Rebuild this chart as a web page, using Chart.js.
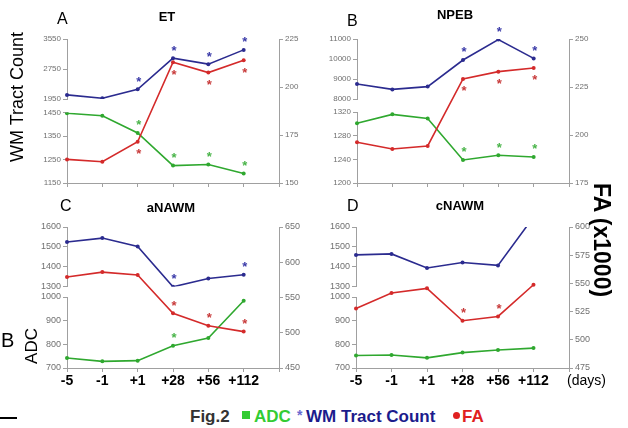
<!DOCTYPE html>
<html>
<head>
<meta charset="utf-8">
<title>Fig.2</title>
<script src="https://cdn.jsdelivr.net/npm/chart.js@4/dist/chart.umd.min.js"></script>
<style>
  body { margin: 0; width: 628px; height: 428px; background: #fff; position: relative; overflow: hidden; font-family: "Liberation Sans", Arial, sans-serif; }
  .panel { position: absolute; }
  .txt { position: absolute; white-space: nowrap; line-height: 1; }
  .rot { position: absolute; white-space: nowrap; line-height: 1; transform: translate(-50%, -50%) rotate(-90deg); }
</style>
</head>
<body>
<div class="panel" style="left:0;top:20px;width:314px;height:180px"><canvas id="chartA"></canvas></div>
<div class="panel" style="left:314px;top:20px;width:314px;height:180px"><canvas id="chartB"></canvas></div>
<div class="panel" style="left:0;top:210px;width:314px;height:185px"><canvas id="chartC"></canvas></div>
<div class="panel" style="left:314px;top:210px;width:314px;height:185px"><canvas id="chartD"></canvas></div>

<!-- panel letters and titles -->
<div class="txt" style="left:57px;top:11px;font-size:16px">A</div>
<div class="txt" style="left:167px;top:10px;font-size:13px;font-weight:bold;transform:translateX(-50%)">ET</div>
<div class="txt" style="left:347px;top:13px;font-size:16px">B</div>
<div class="txt" style="left:455px;top:8px;font-size:13px;font-weight:bold;transform:translateX(-50%)">NPEB</div>
<div class="txt" style="left:60px;top:198px;font-size:16px">C</div>
<div class="txt" style="left:171px;top:201px;font-size:13px;font-weight:bold;transform:translateX(-50%)">aNAWM</div>
<div class="txt" style="left:347px;top:198px;font-size:16px">D</div>
<div class="txt" style="left:460px;top:199px;font-size:13px;font-weight:bold;transform:translateX(-50%)">cNAWM</div>

<!-- axis titles -->
<div class="rot" style="left:17px;top:97px;font-size:18px">WM Tract Count</div>
<div class="rot" style="left:31px;top:346px;font-size:17px">ADC</div>
<div class="txt" style="left:1px;top:330px;font-size:20px">B</div>
<div class="rot" style="left:601px;top:240px;font-size:23px;font-weight:bold;transform:translate(-50%,-50%) rotate(90deg)">FA (x1000)</div>
<div class="txt" style="left:567px;top:373px;font-size:14px">(days)</div>

<!-- figure caption and legend -->
<div class="txt" style="left:190px;top:408px;font-size:17px;font-weight:bold;color:#333">Fig.2</div>
<div style="position:absolute;left:242px;top:411px;width:8px;height:8px;background:#33cc33"></div>
<div class="txt" style="left:254px;top:408px;font-size:17px;font-weight:bold;color:#33cc33">ADC</div>
<div class="txt" style="left:297px;top:408px;font-size:14px;font-weight:bold;color:#6a6ad0">*</div>
<div class="txt" style="left:306px;top:408px;font-size:17px;font-weight:bold;color:#1c1c8c">WM Tract Count</div>
<div style="position:absolute;left:453px;top:412px;width:7px;height:7px;border-radius:50%;background:#e02020"></div>
<div class="txt" style="left:462px;top:408px;font-size:17px;font-weight:bold;color:#e02020">FA</div>
<div style="position:absolute;left:0;top:417px;width:17px;height:2px;background:#000"></div>

<script>
// time points (the last slot is empty so the axis runs one step past +112)
const days = ["-5", "-1", "+1", "+28", "+56", "+112", ""];

// ET
const etTract = [2060, 1970, 2210, 3040, 2880, 3260];
const etADC = [1447, 1436, 1363, 1224, 1229, 1190];
const etFA = [162.3, 161.1, 171.5, 212.9, 207.5, 213.9];
const etTractTicks = [1950, 2750, 3550];
const etADCTicks = [1150, 1250, 1350, 1450];
const etFATicks = [150, 175, 200, 225];
// significance stars: 1 = star above the point, -1 = below, 0 = none
const etTractSig = [0, 0, 1, 1, 1, 1];
const etADCSig = [0, 0, 1, 1, 1, 1];
const etFASig = [0, 0, -1, -1, -1, -1];

// NPEB
const npebTract = [8750, 8480, 8620, 9950, 10970, 10030];
const npebADC = [1301, 1316, 1309, 1239, 1247, 1244];
const npebFA = [196.2, 192.7, 194.3, 229.2, 233, 234.9];
const npebTractTicks = [8000, 9000, 10000, 11000];
const npebADCTicks = [1200, 1240, 1280, 1320];
const npebFATicks = [175, 200, 225, 250];
const npebTractSig = [0, 0, 0, 1, 1, 1];
const npebADCSig = [0, 0, 0, 1, 1, 1];
const npebFASig = [0, 0, 0, -1, -1, -1];

// aNAWM
const aTract = [1524, 1544, 1502, 1298, 1340, 1359];
const aADC = [742, 728, 731, 794, 827, 984];
const aFA = [579, 586, 582, 527.5, 510, 501.6];
const aTractTicks = [1300, 1400, 1500, 1600];
const aADCTicks = [700, 800, 900, 1000];
const aFATicks = [450, 500, 550, 600, 650];
const aTractSig = [0, 0, 0, 1, 0, 1];
const aADCSig = [0, 0, 0, 1, 0, 0];
const aFASig = [0, 0, 0, 1, 1, 1];

// cNAWM (last tract value runs off the top of the panel)
const cTract = [1459, 1464, 1393, 1421, 1406, 1650];
const cADC = [753, 755, 743, 765, 776, 784];
const cFA = [527.8, 541.5, 545.6, 516.9, 520.7, 548.8];
const cTractTicks = [1300, 1400, 1500, 1600];
const cADCTicks = [700, 800, 900, 1000];
const cFATicks = [475, 500, 525, 550, 575, 600];
const cTractSig = [0, 0, 0, 0, 0, 0];
const cADCSig = [0, 0, 0, 0, 0, 0];
const cFASig = [0, 0, 0, 1, 1, 0];

const BLUE = "#2b2b8f";
const RED = "#d42a2a";
const GREEN = "#2fa82f";
const AXIS = "#a0a0a0";
const TICKTXT = "#707070";
const FONT = "'Liberation Sans', Arial, sans-serif";

Chart.defaults.font.family = FONT;

// draw the asterisks next to significant points
const sigStars = {
  id: "sigStars",
  afterDatasetsDraw(chart) {
    const ctx = chart.ctx;
    ctx.save();
    ctx.font = "bold 13px " + FONT;
    ctx.textAlign = "center";
    ctx.textBaseline = "alphabetic";
    chart.data.datasets.forEach((ds, i) => {
      const meta = chart.getDatasetMeta(i);
      ctx.fillStyle = ds.starColor;
      meta.data.forEach((pt, j) => {
        const s = ds.sig[j];
        if (!s) return;
        const cy = s > 0 ? pt.y - 11 : pt.y + 9;
        ctx.fillText("*", pt.x + 1, cy + 7.4);
      });
    });
    ctx.restore();
  },
};

function yAxis(tickList, look, extra) {
  return Object.assign(
    {
      type: "linear",
      min: tickList[0],
      max: tickList[tickList.length - 1],
      afterBuildTicks: (s) => {
        s.ticks = tickList.map((v) => ({ value: v }));
      },
      grid: { drawOnChartArea: false, drawTicks: true, tickLength: 4, color: AXIS },
      border: { color: AXIS, width: 1 },
      ticks: {
        autoSkip: false,
        padding: 2,
        color: TICKTXT,
        font: { size: look.tickSize },
        callback: (v) => String(v),
      },
    },
    extra
  );
}

function lineSet(label, data, axis, color, starColor, sig) {
  return {
    label: label,
    data: data,
    yAxisID: axis,
    borderColor: color,
    backgroundColor: color,
    borderWidth: 1.6,
    pointRadius: 2,
    pointBorderWidth: 0,
    pointBackgroundColor: color,
    tension: 0,
    starColor: starColor,
    sig: sig,
  };
}

function buildChart(canvasId, series, ticks, sig, look) {
  new Chart(document.getElementById(canvasId), {
    type: "line",
    data: {
      labels: days,
      datasets: [
        lineSet("WM Tract Count", series.tract, "yTract", BLUE, "#3a3aa8", sig.tract),
        lineSet("FA", series.fa, "yFA", RED, "#c83a3a", sig.fa),
        lineSet("ADC", series.adc, "yADC", GREEN, "#49b449", sig.adc),
      ],
    },
    options: {
      responsive: true,
      maintainAspectRatio: false,
      animation: false,
      events: [],
      layout: { padding: { top: look.padTop, left: 0, right: 0, bottom: 0 } },
      plugins: { legend: { display: false }, title: { display: false }, tooltip: { enabled: false } },
      scales: {
        x: {
          type: "category",
          offset: false,
          grid: { drawOnChartArea: false, drawTicks: true, tickLength: 4, color: AXIS },
          border: { color: AXIS, width: 1 },
          ticks: {
            display: look.showDays,
            autoSkip: false,
            maxRotation: 0,
            padding: 1,
            color: "#000",
            font: { size: 14, weight: "bold" },
          },
          afterFit: (s) => {
            s.height = look.xh;
          },
        },
        yADC: yAxis(ticks.adc, look, {
          position: "left",
          stack: "left",
          stackWeight: look.weights[2],
          afterFit: (s) => {
            s.width = look.lw;
          },
        }),
        yGap: {
          type: "linear",
          display: false,
          position: "left",
          stack: "left",
          stackWeight: look.weights[1],
          afterFit: (s) => {
            s.width = look.lw;
          },
        },
        yTract: yAxis(ticks.tract, look, {
          position: "left",
          stack: "left",
          stackWeight: look.weights[0],
          afterFit: (s) => {
            s.width = look.lw;
          },
        }),
        yFA: yAxis(ticks.fa, look, {
          position: "right",
          afterFit: (s) => {
            s.width = look.rw;
          },
        }),
      },
    },
    plugins: [sigStars],
  });
}

buildChart(
  "chartA",
  { tract: etTract, adc: etADC, fa: etFA },
  { tract: etTractTicks, adc: etADCTicks, fa: etFATicks },
  { tract: etTractSig, adc: etADCSig, fa: etFASig },
  { padTop: 19, lw: 67, rw: 35, xh: 17, weights: [60, 13.5, 70.5], tickSize: 8, showDays: false }
);

buildChart(
  "chartB",
  { tract: npebTract, adc: npebADC, fa: npebFA },
  { tract: npebTractTicks, adc: npebADCTicks, fa: npebFATicks },
  { tract: npebTractSig, adc: npebADCSig, fa: npebFASig },
  { padTop: 19, lw: 43, rw: 59, xh: 17, weights: [60, 13, 71], tickSize: 8, showDays: false }
);

buildChart(
  "chartC",
  { tract: aTract, adc: aADC, fa: aFA },
  { tract: aTractTicks, adc: aADCTicks, fa: aFATicks },
  { tract: aTractSig, adc: aADCSig, fa: aFASig },
  { padTop: 17, lw: 67, rw: 35, xh: 27, weights: [59.4, 10.6, 71], tickSize: 9, showDays: true }
);

buildChart(
  "chartD",
  { tract: cTract, adc: cADC, fa: cFA },
  { tract: cTractTicks, adc: cADCTicks, fa: cFATicks },
  { tract: cTractSig, adc: cADCSig, fa: cFASig },
  { padTop: 17, lw: 42, rw: 59, xh: 27, weights: [59.4, 10.6, 71], tickSize: 9, showDays: true }
);
</script>
</body>
</html>
